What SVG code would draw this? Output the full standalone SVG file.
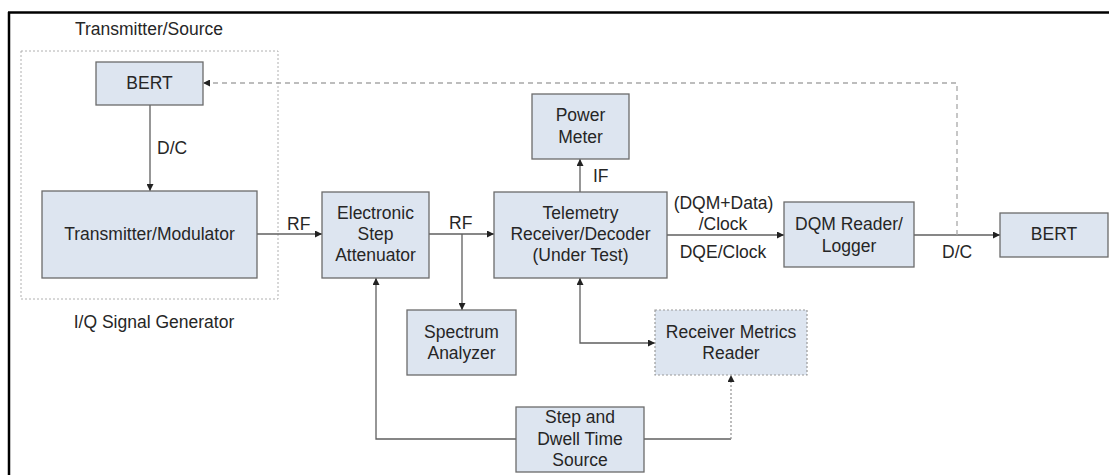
<svg xmlns="http://www.w3.org/2000/svg" width="1109" height="475" viewBox="0 0 1109 475">
<style>
text{font-family:"Liberation Sans",Arial,sans-serif;font-size:17.5px;fill:#262626}
.c{text-anchor:middle}
.box{fill:#dde5f0;stroke:#6b6b6b;stroke-width:1.3}
.dbox{fill:#dde5f0;stroke:#9a9a9a;stroke-width:1.2;stroke-dasharray:2,2}
.ln{fill:none;stroke:#5f5f5f;stroke-width:1.3}
.dl{fill:none;stroke:#a8a8a8;stroke-width:1.3;stroke-dasharray:5,4}
.dt{fill:none;stroke:#9a9a9a;stroke-width:1.3;stroke-dasharray:2,2}
</style>
<defs>
<marker id="a" viewBox="0 0 10 10" refX="10" refY="5" markerWidth="7" markerHeight="7" markerUnits="userSpaceOnUse" orient="auto-start-reverse"><path d="M0,0L10,5L0,10z" fill="#222"/></marker>
</defs>
<rect width="1109" height="475" fill="#fff"/>
<g id="frame"><line x1="8" y1="12.5" x2="1109" y2="12.5" stroke="#000" stroke-width="2.5"/><line x1="9" y1="12" x2="9" y2="475" stroke="#000" stroke-width="2.5"/></g>
<g id="group-source">
<rect x="21" y="51" width="257" height="248" fill="none" stroke="#b0b0b0" stroke-width="1" stroke-dasharray="2,2"/>
<text class="c" x="149" y="35">Transmitter/Source</text>
<text class="c" x="154" y="328">I/Q Signal Generator</text>
</g>
<g id="connectors">
<path class="ln" d="M150,105V191" marker-end="url(#a)"/>
<path class="ln" d="M257,234H322" marker-end="url(#a)"/>
<path class="ln" d="M429,234H494" marker-end="url(#a)"/>
<path class="ln" d="M462,234V310" marker-end="url(#a)"/>
<path class="ln" d="M580,192V159" marker-end="url(#a)"/>
<path class="ln" d="M667,235H784" marker-end="url(#a)"/>
<path class="ln" d="M914,235H1000" marker-end="url(#a)"/>
<path class="dl" d="M957,235V83H203" marker-end="url(#a)"/>
<path class="ln" d="M580,278V343H655" marker-start="url(#a)" marker-end="url(#a)"/>
<path class="ln" d="M516,439H376V278" marker-end="url(#a)"/>
<path class="ln" d="M644,439H731"/>
<path class="dt" d="M731,439V375" marker-end="url(#a)"/>
<text x="157" y="154">D/C</text>
<text x="287" y="230">RF</text>
<text x="449" y="229">RF</text>
<text x="593" y="182">IF</text>
<text class="c" x="723.5" y="209">(DQM+Data)</text>
<text class="c" x="723" y="230">/Clock</text>
<text class="c" x="723" y="258">DQE/Clock</text>
<text x="942" y="258">D/C</text>
</g>
<g id="bert-source"><rect class="box" x="96" y="62" width="107" height="43"/><text class="c" x="149.5" y="89">BERT</text></g>
<g id="tx-modulator"><rect class="box" x="42" y="191" width="215" height="87"/><text class="c" x="149.5" y="240">Transmitter/Modulator</text></g>
<g id="step-attenuator"><rect class="box" x="322" y="192" width="107" height="86"/><text class="c" x="375.5" y="219">Electronic</text><text class="c" x="375.5" y="240">Step</text><text class="c" x="375.5" y="261">Attenuator</text></g>
<g id="telemetry-receiver"><rect class="box" x="494" y="192" width="173" height="86"/><text class="c" x="580.5" y="219">Telemetry</text><text class="c" x="580.5" y="240">Receiver/Decoder</text><text class="c" x="580.5" y="261">(Under Test)</text></g>
<g id="power-meter"><rect class="box" x="532" y="94" width="97" height="65"/><text class="c" x="580.5" y="121">Power</text><text class="c" x="580.5" y="143">Meter</text></g>
<g id="dqm-reader"><rect class="box" x="784" y="202" width="130" height="65"/><text class="c" x="849" y="230">DQM Reader/</text><text class="c" x="849" y="252">Logger</text></g>
<g id="bert-sink"><rect class="box" x="1000" y="213" width="108" height="44"/><text class="c" x="1054" y="240">BERT</text></g>
<g id="spectrum-analyzer"><rect class="box" x="407" y="310" width="109" height="65"/><text class="c" x="461.5" y="338">Spectrum</text><text class="c" x="461.5" y="359">Analyzer</text></g>
<g id="receiver-metrics"><rect class="dbox" x="655" y="310" width="152" height="65"/><text class="c" x="731" y="338">Receiver Metrics</text><text class="c" x="731" y="359">Reader</text></g>
<g id="step-dwell"><rect class="box" x="516" y="407" width="128" height="65"/><text class="c" x="580" y="423">Step and</text><text class="c" x="580" y="445">Dwell Time</text><text class="c" x="580" y="466">Source</text></g>
</svg>
